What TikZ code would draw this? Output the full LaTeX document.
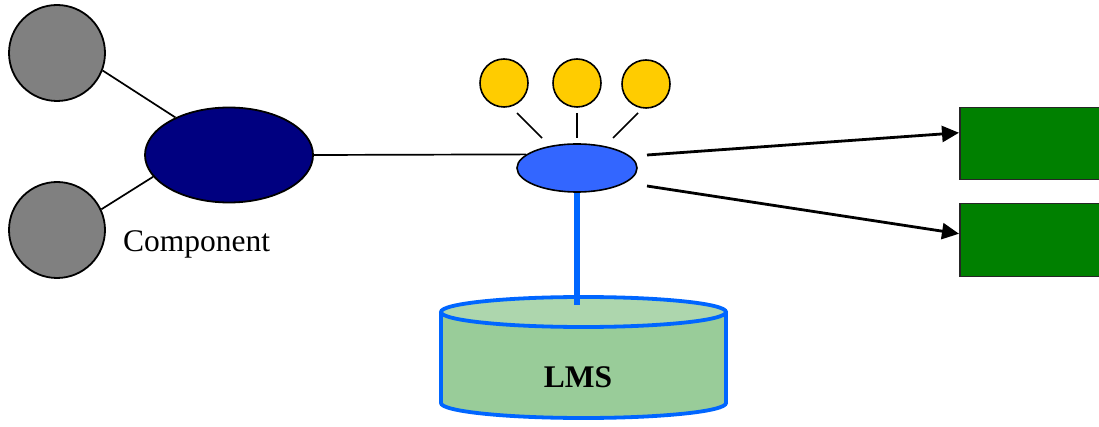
\documentclass[tikz,border=0pt]{standalone}
\usepackage{fontspec}
\setmainfont{Liberation Serif}
\usetikzlibrary{shapes.geometric,arrows.meta}
\definecolor{gcirc}{RGB}{128,128,128}
\definecolor{navyc}{RGB}{0,0,128}
\definecolor{hubc}{RGB}{51,102,255}
\definecolor{yelc}{RGB}{255,204,0}
\definecolor{greenc}{RGB}{0,128,0}
\definecolor{cylbodyc}{RGB}{153,204,153}
\definecolor{cyltopc}{RGB}{173,214,173}
\definecolor{cyllinec}{RGB}{0,102,255}
\begin{document}
\begin{tikzpicture}[x=1pt,y=-1pt,
  graydot/.style={circle, draw=black, line width=1.8pt, fill=gcirc, minimum size=96pt, inner sep=0pt},
  compst/.style={ellipse, draw=black, line width=1.8pt, fill=navyc, minimum width=168pt, minimum height=95pt, inner sep=0pt},
  hubst/.style={ellipse, draw=black, line width=1.6pt, fill=hubc, minimum width=120pt, minimum height=48pt, inner sep=0pt},
  ydot/.style={circle, draw=black, line width=1.6pt, fill=yelc, minimum size=48pt, inner sep=0pt},
  greenbox/.style={rectangle, draw=black!85, line width=1.5pt, fill=greenc, minimum width=170pt, inner sep=0pt, anchor=north west},
  conn/.style={draw=black, line width=1.7pt},
  arr/.style={draw=black, line width=2.8pt, -{Triangle[length=17pt,width=16pt]}},
  cylline/.style={draw=cyllinec, line width=3.8pt},
  hubline/.style={draw=cyllinec, line width=5.8pt},
  lbl/.style={inner sep=0pt, font=\fontsize{31.5}{36}\selectfont}
]
\useasboundingbox (0,0) rectangle (1099,427);
% nodes
\node[graydot] (g1) at (57,53) {};
\node[graydot] (g2) at (57,230) {};
\node[compst] (comp) at (229,155) {};
\node[hubst] (hub) at (577,168) {};
\node[ydot] (y1) at (504,83) {};
\node[ydot] (y2) at (577,83) {};
\node[ydot] (y3) at (646,84) {};
\node[greenbox, minimum height=72pt] (r1) at (959,107) {};
\node[greenbox, minimum height=73pt] (r2) at (959,203) {};
% cylinder
\fill[cylbodyc] (441,312) -- (441,403) arc[start angle=180,end angle=0,x radius=142.5,y radius=15] -- (726,312) -- cycle;
\fill[cyltopc] (583.5,312) ellipse[x radius=142.5,y radius=15];
\draw[cylline] (441,312) -- (441,403) arc[start angle=180,end angle=0,x radius=142.5,y radius=15] -- (726,312);
\draw[cylline] (583.5,312) ellipse[x radius=142.5,y radius=15];
\coordinate (lmstop) at (577,305);
\node[lbl, font=\fontsize{31.5}{36}\selectfont\bfseries, anchor=base] (lms) at (578,387) {LMS};
% labels
\node[lbl, anchor=base west] (complbl) at (123,252) {Component};
% connectors
\draw[conn] (g1.-21) -- (comp.145);
\draw[conn] (g2.25) -- (comp.-164);
\draw[conn] (comp.east) -- (hub.165);
\draw[conn] ([shift={(13,30)}]y1.center) -- ([shift={(-35,-30)}]hub.center);
\draw[conn] ([shift={(0,30)}]y2.center) -- ([shift={(0,-30)}]hub.center);
\draw[conn] ([shift={(-8,29)}]y3.center) -- ([shift={(36,-30)}]hub.center);
\draw[hubline] (hub.south) -- (lmstop);
\draw[arr] ([shift={(70,-13)}]hub.center) -- ([shift={(0,-11)}]r1.west);
\draw[arr] ([shift={(70,18)}]hub.center) -- ([shift={(0,-6.5)}]r2.west);
\end{tikzpicture}
\end{document}
